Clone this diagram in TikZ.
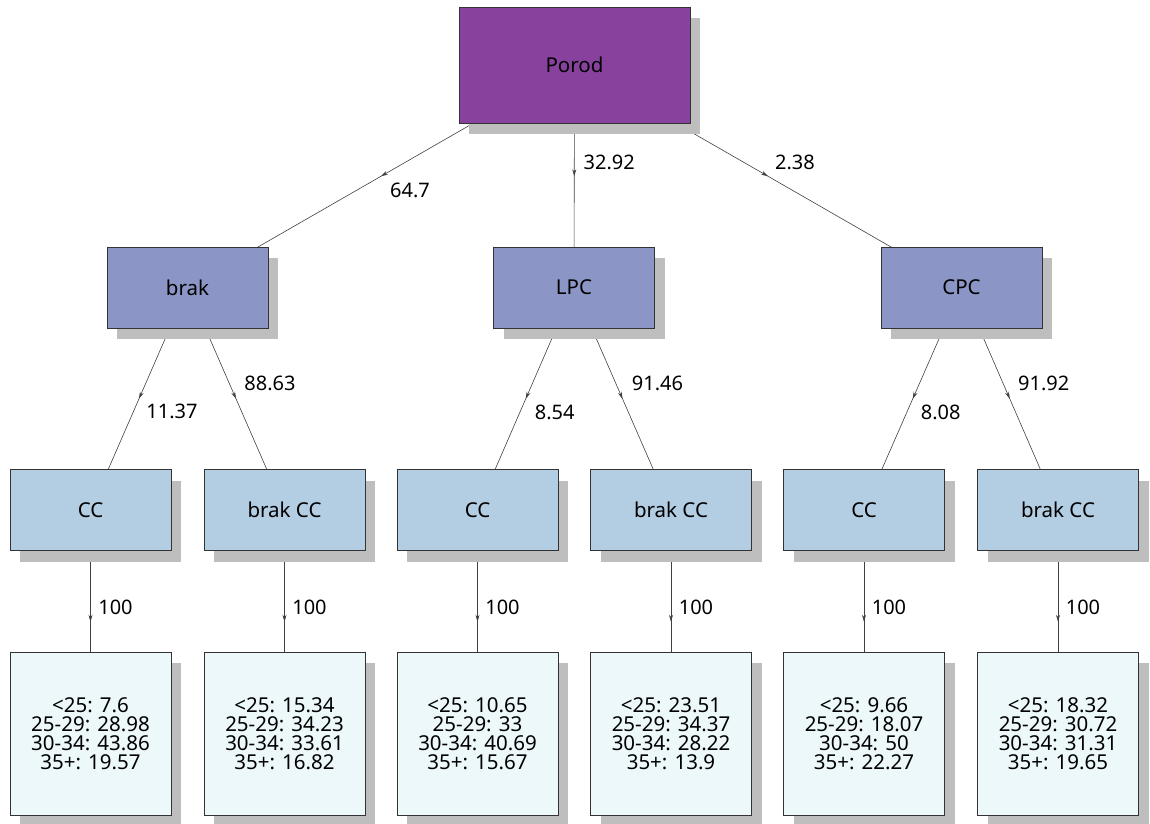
\documentclass[tikz,border=0pt]{standalone}
\usepackage{fontspec}
\setmainfont{Noto Sans}
\usetikzlibrary{arrows.meta,decorations.markings,backgrounds,shadows}
\definecolor{cTop}{HTML}{88419D}
\definecolor{cL1}{HTML}{8C96C6}
\definecolor{cL2}{HTML}{B3CDE3}
\definecolor{cL3}{HTML}{EDF8FB}
\definecolor{shadowgray}{HTML}{BEBEBE}
\begin{document}
\begin{tikzpicture}[x=1pt,y=-1pt,
  box/.style={draw=black!80, line width=0.6pt, minimum width=161pt, minimum height=81pt,
    inner sep=0pt, font=\fontsize{20.5}{19}\selectfont, align=center,
    drop shadow={fill=shadowgray, opacity=1, shadow xshift=10pt, shadow yshift=-11pt}},
  topbox/.style={box, fill=cTop, minimum width=231pt, minimum height=116pt},
  lone/.style={box, fill=cL1},
  ltwo/.style={box, fill=cL2},
  leaf/.style={box, fill=cL3, minimum height=163pt},
  conn/.style={draw=black!75, line width=0.6pt, postaction={decorate},
    decoration={markings, mark=at position 0.5 with {\arrow{Stealth[length=7pt,width=4pt]}}}},
  lbl/.style={font=\fontsize{20}{20}\selectfont, pos=0.5, inner sep=0pt}
]
\useasboundingbox (0,0) rectangle (1150,823);

\node[topbox] (p) at (574.5,65) {Porod};

\node[lone] (b1) at (187.5,287.5) {brak};
\node[lone] (b2) at (574,287.5) {LPC};
\node[lone] (b3) at (961.5,287.5) {CPC};

\node[ltwo] (c1) at (90.5,510) {CC};
\node[ltwo] (c2) at (284.5,510) {brak CC};
\node[ltwo] (c3) at (477.5,510) {CC};
\node[ltwo] (c4) at (671,510) {brak CC};
\node[ltwo] (c5) at (864,510) {CC};
\node[ltwo] (c6) at (1058,510) {brak CC};

\node[leaf] (d1) at (90.5,733.5) {<25: 7.6\\25-29: 28.98\\30-34: 43.86\\35+: 19.57};
\node[leaf] (d2) at (284.5,733.5) {<25: 15.34\\25-29: 34.23\\30-34: 33.61\\35+: 16.82};
\node[leaf] (d3) at (477.5,733.5) {<25: 10.65\\25-29: 33\\30-34: 40.69\\35+: 15.67};
\node[leaf] (d4) at (671,733.5) {<25: 23.51\\25-29: 34.37\\30-34: 28.22\\35+: 13.9};
\node[leaf] (d5) at (864,733.5) {<25: 9.66\\25-29: 18.07\\30-34: 50\\35+: 22.27};
\node[leaf] (d6) at (1058,733.5) {<25: 18.32\\25-29: 30.72\\30-34: 31.31\\35+: 19.65};

\begin{pgfonlayer}{background}
\path[conn] (p.center) -- node[lbl, xshift=29pt, yshift=-14pt] {64.7} (b1.center);
\path[conn] (p.center) -- node[lbl, xshift=35pt, yshift=14pt] {32.92} (b2.center);
\path[conn] (p.center) -- node[lbl, xshift=27pt, yshift=14pt] {2.38} (b3.center);

\path[conn] (b1.center) -- node[lbl, xshift=33pt, yshift=-13pt] {11.37} (c1.center);
\path[conn] (b1.center) -- node[lbl, xshift=34pt, yshift=15pt] {88.63} (c2.center);
\path[conn] (b2.center) -- node[lbl, xshift=29pt, yshift=-14pt] {8.54} (c3.center);
\path[conn] (b2.center) -- node[lbl, xshift=35pt, yshift=15pt] {91.46} (c4.center);
\path[conn] (b3.center) -- node[lbl, xshift=28pt, yshift=-14pt] {8.08} (c5.center);
\path[conn] (b3.center) -- node[lbl, xshift=34pt, yshift=15pt] {91.92} (c6.center);

\path[conn] (c1.center) -- node[lbl, xshift=25pt, yshift=14pt] {100} (d1.center);
\path[conn] (c2.center) -- node[lbl, xshift=25pt, yshift=14pt] {100} (d2.center);
\path[conn] (c3.center) -- node[lbl, xshift=25pt, yshift=14pt] {100} (d3.center);
\path[conn] (c4.center) -- node[lbl, xshift=25pt, yshift=14pt] {100} (d4.center);
\path[conn] (c5.center) -- node[lbl, xshift=25pt, yshift=14pt] {100} (d5.center);
\path[conn] (c6.center) -- node[lbl, xshift=25pt, yshift=14pt] {100} (d6.center);
\end{pgfonlayer}
\end{tikzpicture}
\end{document}
